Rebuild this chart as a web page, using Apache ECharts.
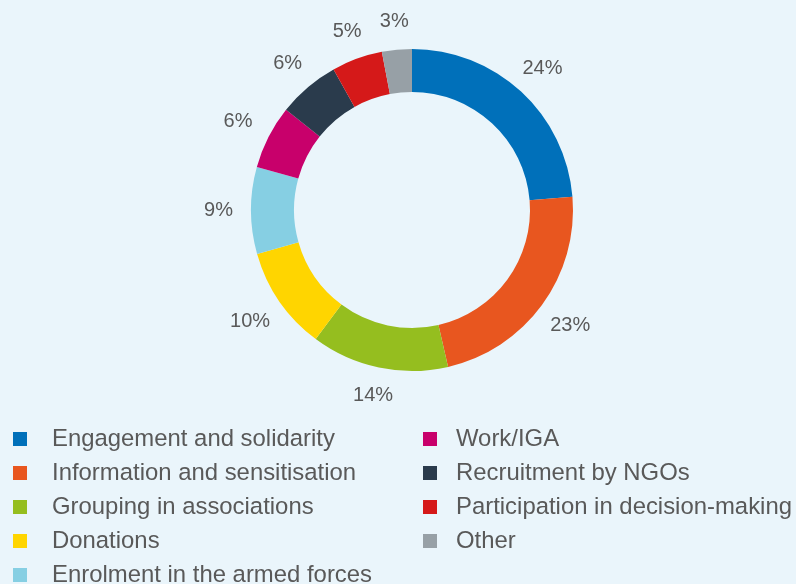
<!DOCTYPE html>
<html>
<head>
<meta charset="utf-8">
<script src="https://cdn.jsdelivr.net/npm/echarts@6/dist/echarts.min.js"></script>
<style>
html,body{margin:0;padding:0;background:#EAF5FB;}
#c{width:796px;height:584px;}
</style>
</head>
<body>
<div id="c"></div>
<script>
const categories = ["Engagement and solidarity","Information and sensitisation","Grouping in associations","Donations","Enrolment in the armed forces","Work/IGA","Recruitment by NGOs","Participation in decision-making","Other"];
// slice shares (labels show them rounded)
const values = [23.7,22.7,13.8,10.4,8.7,6.4,6.2,5.1,3.0];
const colors = ["#0070BA","#E8561F","#95BE1F","#FFD500","#86CFE3","#C8006B","#2A3B4C","#D51919","#97A0A6"];
const legendCol1 = categories.slice(0,5);
const legendCol2 = categories.slice(5);

const chart = echarts.init(document.getElementById('c'));
const font = "'Liberation Sans', Arial, Helvetica, sans-serif";
const CX = 412, CY = 210, LABEL_R = 179;
function legend(left, data, pad){
  return {
    orient:'vertical', top:427, left:left, height:200, padding:0, itemWidth:14, itemHeight:14, itemGap:10,
    icon:'rect', selectedMode:false, data:data,
    textStyle:{fontFamily:font, fontSize:23.9, color:'#595959', padding:[0,0,0,pad]}
  };
}
const pieData = categories.map((n,i)=>({name:n, value:values[i]}));
chart.setOption({
  backgroundColor:'#EAF5FB',
  animation:false,
  color: colors,
  legend:[ legend(13, legendCol1, 20), legend(423, legendCol2, 14) ],
  series:[{
    type:'pie',
    center:[CX,CY],
    radius:[118,161],
    startAngle:90,
    clockwise:true,
    avoidLabelOverlap:false,
    data: pieData,
    label:{show:true, position:'inside', formatter:function(p){return Math.round(p.value)+'%';}, fontFamily:font, fontSize:20, color:'#595959'},
    labelLine:{show:false},
    labelLayout: function(p){
      const r = p.labelRect;
      const lx = r.x + r.width/2, ly = r.y + r.height/2;
      const dx = lx - CX, dy = ly - CY;
      const d = Math.hypot(dx, dy) || 1;
      const ux = dx/d, uy = dy/d;
      const ex = Math.abs(ux) > 1e-6 ? (r.width/2)/Math.abs(ux) : Infinity;
      const ey = Math.abs(uy) > 1e-6 ? (r.height/2)/Math.abs(uy) : Infinity;
      const D = LABEL_R + Math.min(ex, ey);
      return {x: CX + ux*D, y: CY + uy*D, align:'center', verticalAlign:'middle'};
    },
    emphasis:{disabled:true}
  }]
});
</script>
</body>
</html>
